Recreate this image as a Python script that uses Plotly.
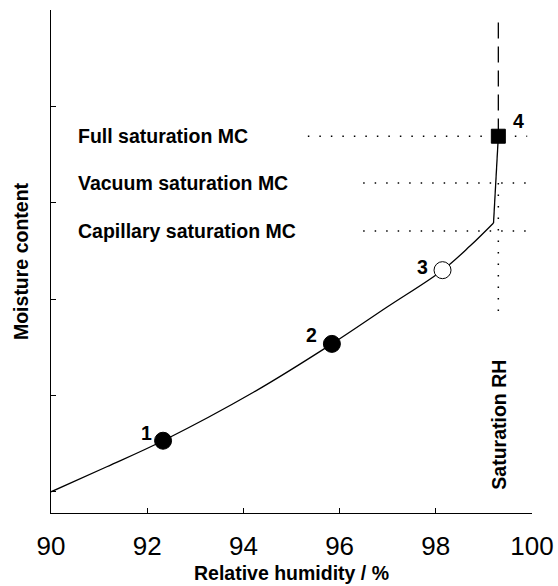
import plotly.graph_objects as go

# Sorption curve (relative humidity %, moisture content in arbitrary units)
curve_rh = [90.0, 91.16, 92.33, 94.2, 95.84, 96.98, 98.14, 98.71, 99.2]
curve_mc = [0.0, 0.26, 0.53, 1.03, 1.535, 1.915, 2.30, 2.55, 2.79]
steep_rh = [99.2, 99.3]
steep_mc = [2.79, 3.69]

# Marked points
pt_rh = [92.33, 95.84, 98.14]
pt_mc = [0.53, 1.535, 2.30]
pt_fill = ["black", "black", "white"]
pt_labels = ["1", "2", "3"]
sq_rh = [99.3]
sq_mc = [3.69]

# Saturation levels
sat_labels = ["Full saturation MC", "Vacuum saturation MC", "Capillary saturation MC"]
sat_mc = [3.69, 3.205, 2.707]
sat_line_start = [95.34, 96.49, 96.49]
sat_line_end = [99.9, 100.0, 100.0]
sat_rh = 99.3
dash_top = 4.87
dot_bottom = 1.86

x_ticks = [90, 92, 94, 96, 98, 100]
y_ticks = [0, 1, 2, 3, 4, 5]

FONT = "Liberation Sans, Arial, sans-serif"

fig = go.Figure()

# dotted horizontal lines
for xs, xe, y in zip(sat_line_start, sat_line_end, sat_mc):
    fig.add_trace(go.Scatter(x=[xs, xe], y=[y, y], mode="lines",
                             line=dict(color="black", width=1.5, dash="1.5px,10px"),
                             showlegend=False, hoverinfo="skip"))

# vertical dashed (above) and dotted (below) saturation RH line
fig.add_trace(go.Scatter(x=[sat_rh, sat_rh], y=[dash_top, sq_mc[0]], mode="lines",
                         line=dict(color="black", width=1.3, dash="16px,8px"),
                         showlegend=False, hoverinfo="skip"))
fig.add_trace(go.Scatter(x=[sat_rh, sat_rh], y=[sat_mc[1], dot_bottom], mode="lines",
                         line=dict(color="black", width=1.5, dash="1.5px,10px"),
                         showlegend=False, hoverinfo="skip"))

# curve
fig.add_trace(go.Scatter(x=curve_rh, y=curve_mc, mode="lines",
                         line=dict(color="black", width=1.3, shape="spline", smoothing=1.0),
                         showlegend=False, hoverinfo="skip"))
fig.add_trace(go.Scatter(x=steep_rh, y=steep_mc, mode="lines",
                         line=dict(color="black", width=1.3),
                         showlegend=False, hoverinfo="skip"))

# points
fig.add_trace(go.Scatter(x=pt_rh, y=pt_mc, mode="markers",
                         marker=dict(symbol="circle", size=17, color=pt_fill,
                                     line=dict(color="black", width=1)),
                         showlegend=False))
fig.add_trace(go.Scatter(x=sq_rh, y=sq_mc, mode="markers",
                         marker=dict(symbol="square", size=14, color="black",
                                     line=dict(color="black", width=1)),
                         showlegend=False))

annotations = []
shifts = [(-17, 8), (-20, 9), (-20, 3)]
for x, y, t, (dx, dy) in zip(pt_rh, pt_mc, pt_labels, shifts):
    annotations.append(dict(x=x, y=y, text=t, showarrow=False, xshift=dx, yshift=dy,
                            font=dict(family=FONT, size=19.5, color="black", weight="bold")))
annotations.append(dict(x=sq_rh[0], y=sq_mc[0], text="4", showarrow=False, xshift=20, yshift=15,
                        font=dict(family=FONT, size=19.5, color="black", weight="bold")))
for lab, y in zip(sat_labels, sat_mc):
    annotations.append(dict(x=90.52, y=y, text=lab, showarrow=False, xanchor="left",
                            yanchor="middle",
                            font=dict(family=FONT, size=19.5, color="black", weight="bold")))
annotations.append(dict(x=sat_rh, y=0.7, text="Saturation RH", showarrow=False, textangle=-90,
                        xshift=1,
                        font=dict(family=FONT, size=19.5, color="black", weight="bold")))

fig.update_layout(
    width=558, height=586,
    margin=dict(l=51, r=26, t=10, b=73),
    plot_bgcolor="white", paper_bgcolor="white",
    annotations=annotations,
    font=dict(family=FONT, color="black"),
)
fig.update_xaxes(range=[90, 100], tickvals=x_ticks, ticks="inside", ticklen=5, tickwidth=1,
                 tickcolor="black", showline=True, linecolor="black", linewidth=1.3,
                 showgrid=False, zeroline=False, ticklabelstandoff=10, automargin=False,
                 tickfont=dict(family=FONT, size=26, color="black"),
                 title=dict(text="Relative humidity / %", standoff=6,
                            font=dict(family=FONT, size=19.5, color="black", weight="bold")))
fig.update_yaxes(range=[-0.22, 5.0], tickvals=y_ticks, ticks="inside", ticklen=5, tickwidth=1,
                 tickcolor="black", showline=True, linecolor="black", linewidth=1.3,
                 showgrid=False, zeroline=False, showticklabels=False, automargin=False,
                 title=dict(text="Moisture content", standoff=16,
                            font=dict(family=FONT, size=19.5, color="black", weight="bold")))

fig.write_html("out.html")
